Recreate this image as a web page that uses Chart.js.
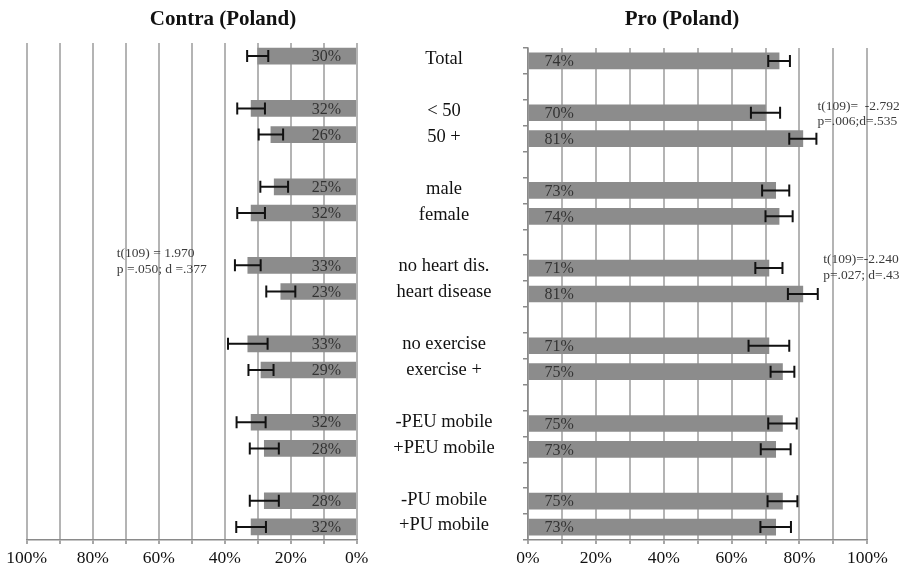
<!DOCTYPE html>
<html><head><meta charset="utf-8">
<script src="https://cdn.jsdelivr.net/npm/chart.js@4.4.1/dist/chart.umd.min.js"></script>
<style>
html,body{margin:0;padding:0;background:#fff;width:908px;height:567px;overflow:hidden;}
#wrap{position:relative;width:908px;height:567px;}
canvas{position:absolute;top:0;}
.title{position:absolute;top:8px;font:bold 21px/21px "Liberation Serif","Times New Roman",serif;color:#111;transform:translateX(-50%);white-space:nowrap;}
</style></head><body>
<div id="wrap">
<canvas id="left" width="400" height="567" style="left:0"></canvas>
<canvas id="right" width="528" height="567" style="left:380px"></canvas>
<div class="title" style="left:223px">Contra (Poland)</div>
<div class="title" style="left:682px">Pro (Poland)</div>
</div>
<script>
// ---- data ----
const categories = ['Total', '', '< 50', '50 +', '', 'male', 'female', '', 'no heart dis.', 'heart disease', '', 'no exercise', 'exercise +', '', '-PEU mobile', '+PEU mobile', '', '-PU mobile', '+PU mobile'];
const contraValues = [30, null, 32, 26, null, 25, 32, null, 33, 23, null, 33, 29, null, 32, 28, null, 28, 32];
const contraErrors = [3.2, null, 4.2, 3.7, null, 4.2, 4.2, null, 3.9, 4.4, null, 6.0, 3.8, null, 4.4, 4.4, null, 4.4, 4.5];
const proValues = [74, null, 70, 81, null, 73, 74, null, 71, 81, null, 71, 75, null, 75, 73, null, 75, 73];
const proErrors = [3.2, null, 4.3, 4.0, null, 4.0, 4.0, null, 4.0, 4.4, null, 6.0, 3.5, null, 4.2, 4.4, null, 4.4, 4.5];
const xTickLabels = ['0%', '', '20%', '', '40%', '', '60%', '', '80%', '', '100%'];
const contraNotes = [['t(109) = 1.970', 'p =.050; d =.377']];
const proNotes = [['t(109)=  -2.792', 'p=.006;d=.535'], ['t(109)=-2.240', 'p=.027; d=.43']];

// ---- styling / placement ----
const serif = '"Liberation Serif","Times New Roman",serif';
const contraNotePos = [{x: 72.7, row: 7.85}];
const proNotePos = [{x: 85.3, row: 2.05}, {x: 87.0, row: 7.97}];
const gridColor = '#b4b4b4';
const axisColor = '#8a8a8a';

function extrasPlugin(values, errors, notes, notePos, drawCats) {
  return {
    id: 'extras',
    afterDatasetsDraw(chart) {
      const ctx = chart.ctx, xs = chart.scales.x, ys = chart.scales.y;
      ctx.save();
      // value labels
      ctx.fillStyle = '#333';
      ctx.font = '16px ' + serif;
      ctx.textAlign = 'center';
      ctx.textBaseline = 'middle';
      values.forEach((v, i) => {
        if (v === null) return;
        ctx.fillText(Math.round(v) + '%', xs.getPixelForValue(9.2), ys.getPixelForValue(i) + 1);
      });
      // error bars
      ctx.strokeStyle = '#111';
      ctx.lineWidth = 2;
      values.forEach((v, i) => {
        if (v === null) return;
        const y = ys.getPixelForValue(i);
        const a = xs.getPixelForValue(v - errors[i]);
        const b = xs.getPixelForValue(v + errors[i]);
        ctx.beginPath();
        ctx.moveTo(a, y); ctx.lineTo(b, y);
        ctx.moveTo(a, y - 6); ctx.lineTo(a, y + 6);
        ctx.moveTo(b, y - 6); ctx.lineTo(b, y + 6);
        ctx.stroke();
      });
      // annotations
      ctx.fillStyle = '#3c3c3c';
      ctx.font = '13.5px ' + serif;
      ctx.textAlign = 'left';
      notes.forEach((lines, k) => {
        const p = notePos[k];
        const x = xs.getPixelForValue(p.x);
        const yc = ys.getPixelForValue(p.row);
        lines.forEach((t, j) => ctx.fillText(t, x, yc + (j - (lines.length - 1) / 2) * 15.5));
      });
      // category labels
      if (drawCats) {
        ctx.fillStyle = '#111';
        ctx.font = '18.5px ' + serif;
        ctx.textAlign = 'center';
        categories.forEach((c, i) => {
          if (!c) return;
          ctx.fillText(c, ys.right - 84, ys.getPixelForValue(i) - 1.5);
        });
      }
      ctx.restore();
    }
  };
}

function xScale(reverse) {
  return {
    type: 'linear', min: 0, max: 100, reverse: reverse, position: 'bottom',
    afterFit: s => { s.height = 27; },
    grid: { color: gridColor, lineWidth: 2, drawTicks: true, tickLength: 4, tickColor: axisColor, tickWidth: 1.5 },
    border: { display: true, color: axisColor, width: 1.5 },
    ticks: {
      stepSize: 10, autoSkip: false, maxRotation: 0, padding: 3.5,
      color: '#111', font: { family: serif, size: 17.5 },
      callback: (v) => xTickLabels[Math.round(v / 10)]
    }
  };
}

new Chart(document.getElementById('left'), {
  type: 'bar',
  data: { labels: categories, datasets: [{ data: contraValues, backgroundColor: '#8c8c8c', borderWidth: 0, barThickness: 16 }] },
  options: {
    indexAxis: 'y', responsive: false, animation: false,
    layout: { padding: { left: 26.7, right: 43.3, top: 43, bottom: 0 } },
    plugins: { legend: { display: false }, tooltip: { enabled: false } },
    scales: {
      x: xScale(true),
      y: { type: 'category', offset: true, display: false }
    }
  },
  plugins: [extrasPlugin(contraValues, contraErrors, contraNotes, contraNotePos, false)]
});

new Chart(document.getElementById('right'), {
  type: 'bar',
  data: { labels: categories, datasets: [{ data: proValues, backgroundColor: '#8c8c8c', borderWidth: 0, barThickness: 16 }] },
  options: {
    indexAxis: 'y', responsive: false, animation: false,
    layout: { padding: { left: 0, right: 40.7, top: 48, bottom: 0 } },
    plugins: { legend: { display: false }, tooltip: { enabled: false } },
    scales: {
      x: xScale(false),
      y: {
        type: 'category', offset: true, position: 'left',
        afterFit: s => { s.width = 148; },
        grid: { display: true, drawOnChartArea: false, drawTicks: true, tickLength: 5, offset: true, color: axisColor, lineWidth: 1.5 },
        border: { display: true, color: axisColor, width: 1.5 },
        ticks: { display: false }
      }
    }
  },
  plugins: [extrasPlugin(proValues, proErrors, proNotes, proNotePos, true)]
});
</script>
</body></html>
